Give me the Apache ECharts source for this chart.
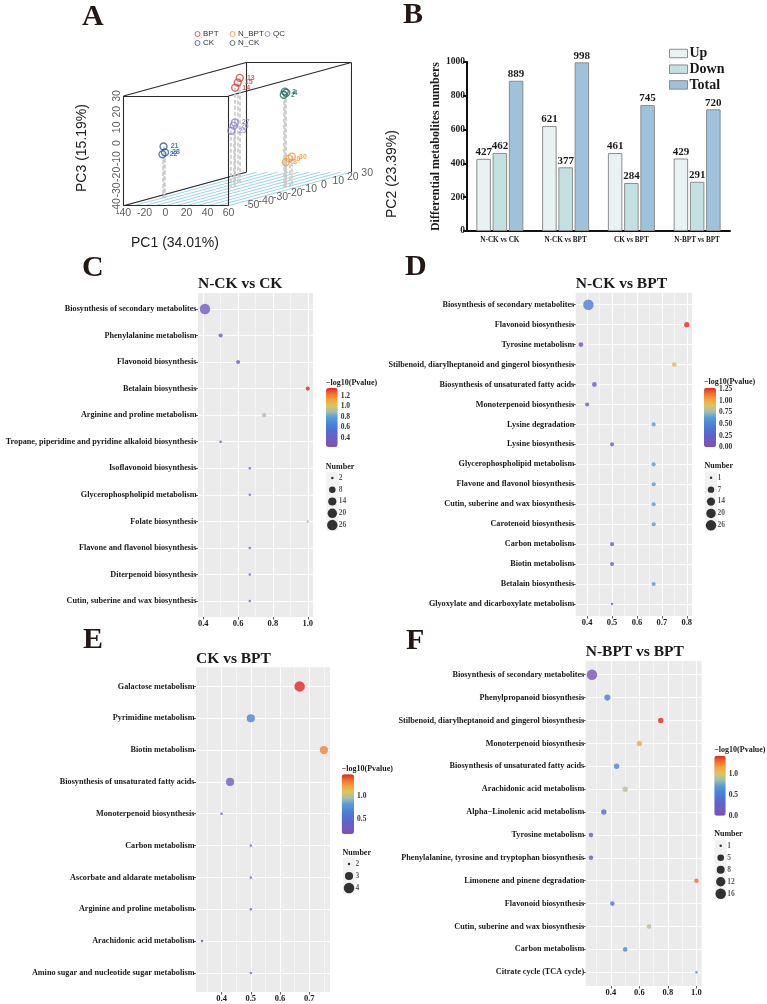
<!DOCTYPE html>
<html>
<head>
<meta charset="utf-8">
<title>Metabolome figure</title>
<script src="https://cdn.jsdelivr.net/npm/echarts@6/dist/echarts.min.js"></script>
<style>
  html, body { margin: 0; padding: 0; background: #fff; }
  #main { width: 767px; height: 1004px; }
</style>
</head>
<body>
<div id="main"></div>
<script>
/********************** A: PCA 得分 (PC1, PC2, PC3) ************************/
var pcaGroups = ['BPT', 'CK', 'N_BPT', 'N_CK', 'QC'];
var pcaBPT = [[-12, 2, 21], [-11, 3, 24], [-9, 3, 27]];
var pcaCK = [[-28, -36, -7], [-28, -35, -11], [-29, -36, -12]];
var pcaNBPT = [[50, -8, -24], [52, -7, -22], [53, -6, -21]];
var pcaNCK = [[48, -8, 19], [49, -7, 20], [49, -8, 21]];
var pcaQC = [[-2, -8, -4], [-1, -7, -1], [0, -7, 1]];
var pcaSampleIds = [['14', '15', '13'], ['21', '28', '22'], ['8', '9', '30'], ['2', '4', '3'], ['25', '26', '27']];
var pc1Range = [-40, 60];
var pc2Range = [-55, 30];
var pc3Range = [-40, 30];
var pc1Ticks = [-40, -20, 0, 20, 40, 60];
var pc2Ticks = [-50, -40, -30, -20, -10, 0, 10, 20, 30];
var pc3Ticks = [-40, -30, -20, -10, 0, 10, 20, 30];

/********************** B: 差异代谢物数目 ************************/
var diffComparisons = ['N-CK vs CK', 'N-CK vs BPT', 'CK vs BPT', 'N-BPT vs BPT'];
var diffUp = [427, 621, 461, 429];
var diffDown = [462, 377, 284, 291];
var diffTotal = [889, 998, 745, 720];

/********************** C: N-CK vs CK ************************/
var cPathways = ['Biosynthesis of secondary metabolites', 'Phenylalanine metabolism', 'Flavonoid biosynthesis',
  'Betalain biosynthesis', 'Arginine and proline metabolism', 'Tropane, piperidine and pyridine alkaloid biosynthesis',
  'Isoflavonoid biosynthesis', 'Glycerophospholipid metabolism', 'Folate biosynthesis',
  'Flavone and flavonol biosynthesis', 'Diterpenoid biosynthesis', 'Cutin, suberine and wax biosynthesis'];
var cRich = [0.41, 0.5, 0.6, 1.0, 0.75, 0.5, 0.667, 0.667, 1.0, 0.667, 0.667, 0.667];
var cLogP = [0.36, 0.33, 0.37, 1.35, 0.92, 0.25, 0.5, 0.5, 0.9, 0.5, 0.5, 0.5];
var cCount = [26, 3, 3, 3, 3, 2, 2, 2, 2, 2, 2, 2];
var cRichTicks = [0.4, 0.6, 0.8, 1.0];
var cRichMinor = [0.5, 0.7, 0.9];
var cLogPTicks = [0.4, 0.6, 0.8, 1.0, 1.2];
var cSizeBreaks = [2, 8, 14, 20, 26];

/********************** D: N-CK vs BPT ************************/
var dPathways = ['Biosynthesis of secondary metabolites', 'Flavonoid biosynthesis', 'Tyrosine metabolism',
  'Stilbenoid, diarylheptanoid and gingerol biosynthesis', 'Biosynthesis of unsaturated fatty acids',
  'Monoterpenoid biosynthesis', 'Lysine degradation', 'Lysine biosynthesis', 'Glycerophospholipid metabolism',
  'Flavone and flavonol biosynthesis', 'Cutin, suberine and wax biosynthesis', 'Carotenoid biosynthesis',
  'Carbon metabolism', 'Biotin metabolism', 'Betalain biosynthesis', 'Glyoxylate and dicarboxylate metabolism'];
var dRich = [0.405, 0.8, 0.375, 0.75, 0.429, 0.4, 0.667, 0.5, 0.667, 0.667, 0.667, 0.667, 0.5, 0.5, 0.667, 0.5];
var dLogP = [0.45, 1.28, 0.04, 0.93, 0.16, 0.07, 0.6, 0.22, 0.6, 0.6, 0.6, 0.6, 0.22, 0.22, 0.6, 0.15];
var dCount = [26, 4, 3, 3, 3, 2, 2, 2, 2, 2, 2, 2, 2, 2, 2, 1];
var dRichTicks = [0.4, 0.5, 0.6, 0.7, 0.8];
var dRichMinor = [0.45, 0.55, 0.65, 0.75];
var dLogPTicks = [0, 0.25, 0.5, 0.75, 1.0, 1.25];
var dSizeBreaks = [1, 7, 14, 20, 26];

/********************** E: CK vs BPT ************************/
var ePathways = ['Galactose metabolism', 'Pyrimidine metabolism', 'Biotin metabolism',
  'Biosynthesis of unsaturated fatty acids', 'Monoterpenoid biosynthesis', 'Carbon metabolism',
  'Ascorbate and aldarate metabolism', 'Arginine and proline metabolism', 'Arachidonic acid metabolism',
  'Amino sugar and nucleotide sugar metabolism'];
var eRich = [0.667, 0.5, 0.75, 0.429, 0.4, 0.5, 0.5, 0.5, 0.333, 0.5];
var eLogP = [1.48, 0.66, 1.3, 0.3, 0.2, 0.46, 0.46, 0.46, 0.18, 0.48];
var eCount = [4, 3, 3, 3, 2, 2, 2, 2, 2, 2];
var eRichTicks = [0.4, 0.5, 0.6, 0.7];
var eRichMinor = [0.35, 0.45, 0.55, 0.65, 0.75];
var eLogPTicks = [0.5, 1.0];
var eSizeBreaks = [2, 3, 4];

/********************** F: N-BPT vs BPT ************************/
var fPathways = ['Biosynthesis of secondary metabolites', 'Phenylpropanoid biosynthesis',
  'Stilbenoid, diarylheptanoid and gingerol biosynthesis', 'Monoterpenoid biosynthesis',
  'Biosynthesis of unsaturated fatty acids', 'Arachidonic acid metabolism', 'Alpha\u2212Linolenic acid metabolism',
  'Tyrosine metabolism', 'Phenylalanine, tyrosine and tryptophan biosynthesis', 'Limonene and pinene degradation',
  'Flavonoid biosynthesis', 'Cutin, suberine and wax biosynthesis', 'Carbon metabolism', 'Citrate cycle (TCA cycle)'];
var fRich = [0.267, 0.375, 0.75, 0.6, 0.44, 0.5, 0.35, 0.26, 0.26, 1.0, 0.41, 0.667, 0.5, 1.0];
var fLogP = [0.08, 0.5, 1.43, 1.12, 0.58, 0.9, 0.3, 0.05, 0.05, 1.3, 0.45, 0.9, 0.55, 0.6];
var fCount = [16, 4, 3, 3, 3, 3, 3, 2, 2, 2, 2, 2, 2, 1];
var fRichTicks = [0.4, 0.6, 0.8, 1.0];
var fRichMinor = [0.3, 0.5, 0.7, 0.9];
var fLogPTicks = [0, 0.5, 1.0];
var fSizeBreaks = [1, 5, 8, 12, 16];

/********************** 样式 ************************/
var SERIF = "'Liberation Serif', 'DejaVu Serif', serif";
var SANS = "'Liberation Sans', Arial, sans-serif";
var INK = '#1a1a1a';
var LETTER = '#231815';
// -log10(P) 色带 (低 -> 高)
var PAL = ['#7e4fad', '#735ac0', '#6063c9', '#4e74d0', '#4a87d6', '#559fd8',
  '#a4bfae', '#dcc45e', '#f5a53a', '#f17130', '#e2261f'];
var pcaColors = ['#d0403a', '#2c559c', '#f0962e', '#1f6e5c', '#8a82c8'];

var grids = [], xAxes = [], yAxes = [], series = [], visualMaps = [], legends = [], graphics = [];

function addText(x, y, str, size, opt) {
  opt = opt || {};
  graphics.push({
    type: 'text', x: x, y: y, rotation: opt.rotation || 0, silent: true,
    style: {
      text: str, fontSize: size, fontFamily: opt.family || SERIF, fontWeight: opt.weight || 'bold',
      fill: opt.color || INK, align: opt.align || 'left', verticalAlign: 'middle'
    }
  });
}

/********************** A: 3D PCA (斜投影) ************************/
var KX = 1.05, KZ = 1.567, DX = 1.4435, DY = 0.394; // 每单位像素
function proj(p) {
  var d = p[1] - pc2Range[0];
  return [p[0] * KX + d * DX, p[2] * KZ + d * DY];
}
var aMin = proj([pc1Range[0], pc2Range[0], pc3Range[0]]);
var aMax = proj([pc1Range[1], pc2Range[1], pc3Range[1]]);
var aGrid = grids.push({
  left: 123.5, top: 205.7 - (aMax[1] - aMin[1]),
  width: aMax[0] - aMin[0], height: aMax[1] - aMin[1]
}) - 1;
var aX = xAxes.push({gridIndex: aGrid, type: 'value', show: false, min: aMin[0], max: aMax[0]}) - 1;
var aY = yAxes.push({gridIndex: aGrid, type: 'value', show: false, min: aMin[1], max: aMax[1]}) - 1;

function seg(a, b) { return {coords: [proj(a), proj(b)]}; }

// 底面网格
var floorLines = [];
for (var v = pc1Range[0]; v <= pc1Range[1]; v += 10) {
  floorLines.push(seg([v, pc2Range[0], pc3Range[0]], [v, pc2Range[1], pc3Range[0]]));
}
series.push({
  type: 'lines', coordinateSystem: 'cartesian2d', xAxisIndex: aX, yAxisIndex: aY, silent: true, z: 1,
  lineStyle: {color: '#9fd3e6', width: 1, opacity: 1}, data: floorLines
});

// 立方框
var x0 = pc1Range[0], x1 = pc1Range[1], y0 = pc2Range[0], y1 = pc2Range[1], z0 = pc3Range[0], z1 = pc3Range[1];
var boxLines = [
  seg([x0, y0, z0], [x1, y0, z0]), seg([x1, y0, z0], [x1, y0, z1]), seg([x1, y0, z1], [x0, y0, z1]), seg([x0, y0, z1], [x0, y0, z0]),
  seg([x0, y1, z1], [x1, y1, z1]), seg([x1, y1, z1], [x1, y1, z0]), seg([x0, y1, z1], [x0, y1, z0]),
  seg([x0, y0, z1], [x0, y1, z1]), seg([x1, y0, z1], [x1, y1, z1]), seg([x0, y0, z0], [x0, y1, z0])
];
series.push({
  type: 'lines', coordinateSystem: 'cartesian2d', xAxisIndex: aX, yAxisIndex: aY, silent: true, z: 2,
  lineStyle: {color: '#2b2b2b', width: 1.1, opacity: 1}, data: boxLines
});

// 垂线 + 样本点
var pcaSets = [pcaBPT, pcaCK, pcaNBPT, pcaNCK, pcaQC];
var dropLines = [];
pcaSets.forEach(function (set) {
  set.forEach(function (p) { dropLines.push(seg(p, [p[0], p[1], pc3Range[0]])); });
});
series.push({
  type: 'lines', coordinateSystem: 'cartesian2d', xAxisIndex: aX, yAxisIndex: aY, silent: true, z: 2,
  lineStyle: {color: '#c9c9c9', width: 1.6, type: [4, 2], opacity: 1}, data: dropLines
});
pcaSets.forEach(function (set, gi) {
  series.push({
    name: pcaGroups[gi], type: 'scatter', xAxisIndex: aX, yAxisIndex: aY, z: 4, silent: true, clip: false,
    symbol: 'circle', symbolSize: 7,
    itemStyle: {color: 'rgba(0,0,0,0)', borderColor: pcaColors[gi], borderWidth: 1.3},
    label: {
      show: true, position: 'right', distance: 3, fontSize: 7, fontFamily: SANS, fontWeight: 'bold',
      color: pcaColors[gi], formatter: function (o) { return o.name; }
    },
    data: set.map(function (p, i) { return {name: pcaSampleIds[gi][i], value: proj(p)}; })
  });
});

// 坐标刻度文字
function tickLabel(pos, txt, rotate) {
  return {
    value: pos,
    label: {show: true, position: 'inside', formatter: txt, rotate: rotate || 0,
      fontSize: 10.5, fontFamily: SANS, color: '#333'}
  };
}
var aTicks = [];
pc1Ticks.forEach(function (t) {
  var q = proj([t, pc2Range[0], pc3Range[0]]);
  aTicks.push(tickLabel([q[0], q[1] - 7], String(t)));
});
pc3Ticks.forEach(function (t) {
  var q = proj([pc1Range[0], pc2Range[0], t]);
  aTicks.push(tickLabel([q[0] - 6, q[1]], String(t), 90));
});
pc2Ticks.forEach(function (t) {
  var q = proj([pc1Range[1], t, pc3Range[0]]);
  aTicks.push(tickLabel([q[0] + 16, q[1] - 1], String(t)));
});
series.push({
  type: 'scatter', xAxisIndex: aX, yAxisIndex: aY, z: 5, silent: true, clip: false, symbolSize: 1,
  itemStyle: {color: 'rgba(0,0,0,0)'}, data: aTicks
});

var legendCols = [[['BPT', 0], ['CK', 1]], [['N_BPT', 2], ['N_CK', 3]], [['QC', 4]]];
legendCols.forEach(function (col, ci) {
  legends.push({
    orient: 'vertical', left: 194.5 + ci * 35, top: 30, padding: 0, itemGap: 1,
    itemWidth: 5, itemHeight: 5, icon: 'circle', selectedMode: false,
    textStyle: {fontSize: 8, fontFamily: SANS, color: '#333', lineHeight: 8, padding: [0, 0, 0, -2]},
    data: col.map(function (c) {
      return {name: c[0], itemStyle: {color: 'rgba(0,0,0,0)', borderColor: pcaColors[c[1]], borderWidth: 1}};
    })
  });
});

addText(82, 17, 'A', 30, {color: LETTER});
addText(175, 243, 'PC1 (34.01%)', 14, {family: SANS, weight: 'normal', color: '#222', align: 'center'});
addText(82, 148, 'PC3 (15.19%)', 14, {family: SANS, weight: 'normal', color: '#222', align: 'center', rotation: Math.PI / 2});
addText(392, 174, 'PC2 (23.39%)', 14, {family: SANS, weight: 'normal', color: '#222', align: 'center', rotation: Math.PI / 2});

/********************** B: 柱状图 ************************/
var bGrid = grids.push({left: 467, top: 62, width: 263, height: 169}) - 1;
var bX = xAxes.push({
  gridIndex: bGrid, type: 'category', data: diffComparisons,
  axisLine: {lineStyle: {color: '#111', width: 2}}, axisTick: {show: false},
  axisLabel: {interval: 0, margin: 6, fontSize: 7.2, fontFamily: SERIF, fontWeight: 'bold', color: INK}
}) - 1;
var bY = yAxes.push({
  gridIndex: bGrid, type: 'value', min: 0, max: 1000, interval: 200,
  name: 'Differential metabolites numbers', nameLocation: 'middle', nameGap: 21,
  nameTextStyle: {fontSize: 12, fontFamily: SERIF, fontWeight: 'bold', color: INK},
  axisLine: {show: true, lineStyle: {color: '#111', width: 2}},
  axisTick: {show: true, length: 4, lineStyle: {color: '#111', width: 2}},
  axisLabel: {margin: 2, fontSize: 9.5, fontFamily: SERIF, fontWeight: 'bold', color: INK,
    formatter: function (v) { return String(v); }},
  splitLine: {show: false}
}) - 1;
var barSets = [['Up', diffUp, '#e8f2f2'], ['Down', diffDown, '#c4e1e1'], ['Total', diffTotal, '#9ec2d9']];
barSets.forEach(function (b) {
  series.push({
    name: b[0], type: 'bar', xAxisIndex: bX, yAxisIndex: bY, data: b[1],
    barWidth: 14.5, barGap: '12%', silent: true,
    itemStyle: {color: b[2], borderColor: '#8c8c8c', borderWidth: 1},
    label: {show: true, position: 'top', distance: 1, fontSize: 11, fontFamily: SERIF, fontWeight: 'bold', color: INK}
  });
});
legends.push({
  orient: 'vertical', left: 669, top: 46.5, padding: 0, itemGap: 1.7,
  itemWidth: 18, itemHeight: 8.5, icon: 'rect', selectedMode: false,
  textStyle: {fontSize: 14, fontFamily: SERIF, fontWeight: 'bold', color: INK, lineHeight: 9, padding: [0, 0, 0, -3]},
  data: barSets.map(function (b) {
    return {name: b[0], itemStyle: {color: b[2], borderColor: '#8c8c8c', borderWidth: 1}};
  })
});
addText(403, 15, 'B', 30, {color: LETTER});

/********************** C-F: KEGG 气泡图 ************************/
function dotSize(n, lo, hi) { return 2.5 + 8 * Math.sqrt((n - lo) / (hi - lo)); }

function bubblePanel(p) {
  var lo = p.sizes[0], hi = p.sizes[p.sizes.length - 1];
  var g = grids.push({left: p.box[0], top: p.box[1], width: p.box[2], height: p.box[3],
    show: true, backgroundColor: '#ebebeb', borderWidth: 0}) - 1;
  var xi = xAxes.push({
    gridIndex: g, type: 'value', min: p.xr[0], max: p.xr[1],
    axisLine: {show: false},
    axisTick: {show: true, length: 2.5, lineStyle: {color: '#333', width: 0.8}, customValues: p.xMajor},
    axisLabel: {customValues: p.xMajor, margin: 2.5, fontSize: 8.5, fontFamily: SERIF, fontWeight: 'bold', color: INK,
      formatter: function (v) { return v.toFixed(p.xDigits); }},
    splitLine: {show: true, lineStyle: {color: '#fff', width: 1.1}}
  }) - 1;
  xAxes.push({
    gridIndex: g, type: 'value', min: p.xr[0], max: p.xr[1], position: 'top',
    axisLine: {show: false}, axisTick: {show: false, customValues: p.xMinor}, axisLabel: {show: false},
    splitLine: {show: true, lineStyle: {color: '#fff', width: 0.5}}
  });
  var rows = p.names.map(function (n, i) { return i + 1; });
  var yi = yAxes.push({
    gridIndex: g, type: 'value', inverse: true, min: 0.4, max: p.names.length + 0.6,
    axisLine: {show: false},
    axisTick: {show: true, length: 2.5, lineStyle: {color: '#333', width: 0.8}, customValues: rows},
    axisLabel: {customValues: rows, margin: 1.5, fontSize: 8.2, fontFamily: SERIF, fontWeight: 'bold', color: INK,
      formatter: function (v) { return p.names[Math.round(v) - 1]; }},
    splitLine: {show: true, lineStyle: {color: '#fff', width: 1.1}}
  }) - 1;
  var si = series.push({
    type: 'scatter', xAxisIndex: xi, yAxisIndex: yi, z: 3, silent: true,
    symbolSize: function (val) { return dotSize(val[3], lo, hi); },
    data: p.names.map(function (nm, i) { return {name: nm, value: [p.rich[i], i + 1, p.logp[i], p.count[i]]}; })
  }) - 1;

  // 颜色条
  visualMaps.push({
    type: 'continuous', seriesIndex: si, dimension: 2, min: p.pr[0], max: p.pr[1],
    inRange: {color: PAL}, left: p.bar[0], top: p.bar[1], itemWidth: p.bar[2], itemHeight: p.bar[3],
    calculable: false, hoverLink: false, padding: 0, orient: 'vertical'
  });
  var cg = grids.push({left: p.bar[0], top: p.bar[1], width: p.bar[2], height: p.bar[3], show: false}) - 1;
  xAxes.push({gridIndex: cg, type: 'value', show: false, min: 0, max: 1});
  yAxes.push({
    gridIndex: cg, type: 'value', position: 'right', min: p.pr[0], max: p.pr[1],
    axisLine: {show: false}, splitLine: {show: false},
    axisTick: {show: false, customValues: p.pTicks},
    axisLabel: {customValues: p.pTicks, margin: 3, fontSize: 7.5, fontFamily: SERIF, fontWeight: 'bold', color: '#333',
      formatter: function (v) { return v.toFixed(p.pDigits); }}
  });

  // 点大小图例
  var kg = grids.push({left: p.keys[0], top: p.keys[1], width: 12, height: p.keys[2],
    show: true, backgroundColor: '#f2f2f2', borderWidth: 0}) - 1;
  var kx = xAxes.push({gridIndex: kg, type: 'value', show: false, min: 0, max: 1}) - 1;
  var ky = yAxes.push({gridIndex: kg, type: 'value', show: false, inverse: true, min: 0.5, max: p.sizes.length + 0.5}) - 1;
  series.push({
    type: 'scatter', xAxisIndex: kx, yAxisIndex: ky, silent: true, itemStyle: {color: '#000'},
    symbolSize: function (val) { return dotSize(val[2], lo, hi); },
    data: p.sizes.map(function (s, i) { return [0.5, i + 1, s]; })
  });
  series.push({
    type: 'scatter', xAxisIndex: kx, yAxisIndex: ky, silent: true, symbolSize: 1,
    itemStyle: {color: 'rgba(0,0,0,0)'},
    label: {show: true, position: 'right', distance: 0, fontSize: 7.5, fontFamily: SERIF, fontWeight: 'bold', color: '#333',
      formatter: function (o) { return o.value[2]; }},
    data: p.sizes.map(function (s, i) { return [1, i + 1, s]; })
  });

  addText(p.box[0], p.titleY, p.title, 15.5);
  addText(p.letter[1], p.letter[2], p.letter[0], 30, {color: LETTER});
  addText(p.bar[0], p.bar[1] - 5.5, '\u2212log10(Pvalue)', 8);
  addText(p.keys[0] - 0.5, p.keys[1] - 5.5, 'Number', 8);
}

bubblePanel({
  title: 'N-CK vs CK', titleY: 284, letter: ['C', 82, 268],
  names: cPathways, rich: cRich, logp: cLogP, count: cCount, sizes: cSizeBreaks,
  box: [198, 293, 115, 324], xr: [0.37, 1.03], xMajor: cRichTicks, xMinor: cRichMinor, xDigits: 1,
  pr: [0.23, 1.35], pTicks: cLogPTicks, pDigits: 1, bar: [326, 388, 11.7, 59], keys: [326.3, 472, 59]
});
bubblePanel({
  title: 'N-CK vs BPT', titleY: 284, letter: ['D', 405, 267],
  names: dPathways, rich: dRich, logp: dLogP, count: dCount, sizes: dSizeBreaks,
  box: [575.7, 292.7, 116.3, 323.3], xr: [0.354, 0.821], xMajor: dRichTicks, xMinor: dRichMinor, xDigits: 1,
  pr: [0, 1.28], pTicks: dLogPTicks, pDigits: 2, bar: [704, 387.7, 12, 59.6], keys: [705, 471.8, 59.5]
});
bubblePanel({
  title: 'CK vs BPT', titleY: 659, letter: ['E', 83, 640],
  names: ePathways, rich: eRich, logp: eLogP, count: eCount, sizes: eSizeBreaks,
  box: [196, 667.3, 134, 324.7], xr: [0.3125, 0.771], xMajor: eRichTicks, xMinor: eRichMinor, xDigits: 1,
  pr: [0.16, 1.48], pTicks: eLogPTicks, pDigits: 1, bar: [341.7, 774.3, 12.3, 59.7], keys: [343, 858, 36]
});
bubblePanel({
  title: 'N-BPT vs BPT', titleY: 652.3, letter: ['F', 406, 641],
  names: fPathways, rich: fRich, logp: fLogP, count: fCount, sizes: fSizeBreaks,
  box: [585.7, 661, 116, 325], xr: [0.223, 1.037], xMajor: fRichTicks, xMinor: fRichMinor, xDigits: 1,
  pr: [0, 1.43], pTicks: fLogPTicks, pDigits: 1, bar: [714.3, 755.7, 11.4, 60], keys: [714.7, 839.7, 60]
});

var myChart = echarts.init(document.getElementById('main'), null, {renderer: 'canvas'});
myChart.setOption({
  animation: false,
  backgroundColor: '#fff',
  grid: grids,
  xAxis: xAxes,
  yAxis: yAxes,
  legend: legends,
  visualMap: visualMaps,
  graphic: graphics,
  series: series
});
window.addEventListener('resize', function () { myChart.resize(); });
</script>
</body>
</html>
